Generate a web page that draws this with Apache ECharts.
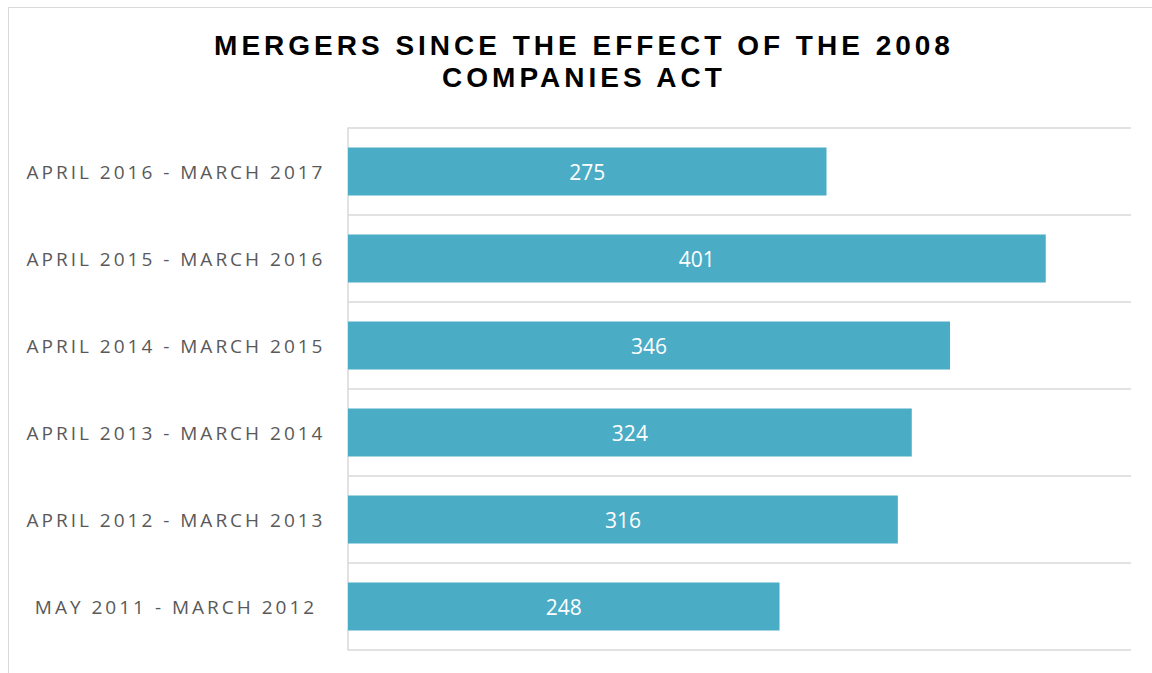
<!DOCTYPE html>
<html>
<head>
<meta charset="utf-8">
<script src="https://cdn.jsdelivr.net/npm/echarts@6/dist/echarts.min.js"></script>
<style>
  html, body { margin: 0; padding: 0; background: #fff; overflow: hidden; }
  #frame {
    position: absolute; left: 8px; top: 7px;
    width: 1170px; height: 700px;
    border: 1.5px solid #d9d9d9;
  }
  #chart { position: absolute; left: 0; top: 0; width: 1152px; height: 673px; }
</style>
</head>
<body>
<div id="frame"></div>
<div id="chart"></div>
<script>
// periods, bottom to top
const periods = [
  'MAY 2011 - MARCH 2012',
  'APRIL 2012 - MARCH 2013',
  'APRIL 2013 - MARCH 2014',
  'APRIL 2014 - MARCH 2015',
  'APRIL 2015 - MARCH 2016',
  'APRIL 2016 - MARCH 2017'
]
const mergers = [248, 316, 324, 346, 401, 275]

const chart = echarts.init(document.getElementById('chart'), null, { renderer: 'svg' })

const option = {
  animation: false,
  title: {
    text: 'MERGERS SINCE THE EFFECT OF THE 2008\nCOMPANIES ACT',
    left: 584,
    top: 29,
    padding: 0,
    textAlign: 'center',
    textStyle: {
      fontFamily: 'Liberation Sans',
      fontWeight: 'bold',
      fontSize: 28,
      lineHeight: 32,
      color: '#000'
    }
  },
  grid: { left: 348, right: 21, top: 128, bottom: 23 },
  xAxis: {
    type: 'value',
    min: 0,
    max: 450,
    show: false,
    splitLine: { show: false }
  },
  yAxis: {
    type: 'category',
    data: periods,
    axisTick: { show: false },
    axisLine: { show: true, lineStyle: { color: '#d9d9d9', width: 1.5 } },
    splitLine: { show: true, lineStyle: { color: '#d9d9d9', width: 1.5 } },
    axisLabel: {
      align: 'center',
      margin: 172,
      color: '#595959',
      fontFamily: 'Open Sans',
      fontSize: 19
    }
  },
  series: [
    {
      type: 'bar',
      data: mergers,
      barWidth: 48,
      itemStyle: { color: '#4BACC6' },
      label: {
        show: true,
        position: 'inside',
        color: '#fff',
        fontFamily: 'Open Sans',
        fontSize: 21
      }
    }
  ]
}

chart.setOption(option)

// wide letter spacing like the original (svg text only)
function spaceLetters() {
  document.querySelectorAll('#chart text').forEach(t => {
    const s = t.textContent.trim()
    if (/^\d+$/.test(s)) t.style.letterSpacing = '0px'
    else if (s.indexOf('MERGERS') === 0 || s.indexOf('COMPANIES') === 0) t.style.letterSpacing = '4px'
    else t.style.letterSpacing = '3px'
  })
}
chart.on('finished', spaceLetters)
spaceLetters()
</script>
</body>
</html>
